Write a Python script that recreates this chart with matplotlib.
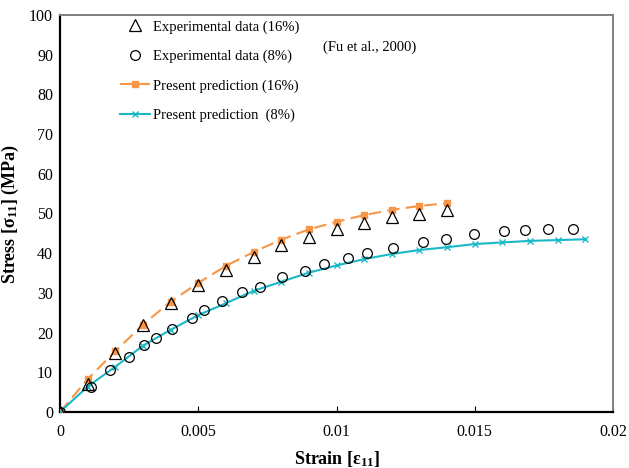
import matplotlib
matplotlib.use('Agg')
import matplotlib.pyplot as plt

plt.rcParams['font.family'] = ['Liberation Serif', 'DejaVu Serif']
plt.rcParams['mathtext.default'] = 'regular'

# present prediction, 16% and 8%
strain_16 = [0, 0.001, 0.002, 0.003, 0.004, 0.005, 0.006, 0.007, 0.008,
             0.009, 0.010, 0.011, 0.012, 0.013, 0.014]
pred_16 = [0, 8.3, 15.3, 22.0, 27.8, 32.5, 36.8, 40.3, 43.4,
           46.0, 47.9, 49.6, 50.9, 51.9, 52.6]
strain_8 = [0, 0.001, 0.002, 0.003, 0.004, 0.005, 0.006, 0.007, 0.008, 0.009,
            0.010, 0.011, 0.012, 0.013, 0.014, 0.015, 0.016, 0.017, 0.018, 0.019]
pred_8 = [0, 6.4, 11.4, 16.7, 20.7, 24.4, 27.4, 30.5, 32.8, 35.1,
          36.9, 38.5, 39.8, 40.8, 41.5, 42.3, 42.7, 43.1, 43.3, 43.5]

# experimental data (Fu et al., 2000)
exp16_x = [0, 0.001, 0.002, 0.003, 0.004, 0.005, 0.006, 0.007, 0.008,
           0.009, 0.010, 0.011, 0.012, 0.013, 0.014]
exp16_y = [0, 7.0, 14.8, 21.8, 27.4, 32.0, 35.8, 39.0, 42.0,
           44.0, 46.0, 47.5, 49.0, 49.9, 50.9]
exp8_x = [0, 0.00111, 0.00181, 0.00251, 0.00303, 0.00347, 0.00404, 0.00476,
          0.0052, 0.00586, 0.00659, 0.00725, 0.00804, 0.00886, 0.00956,
          0.01043, 0.01109, 0.01205, 0.01314, 0.01396, 0.01496, 0.01606,
          0.0168, 0.01766, 0.01854]
exp8_y = [0, 6.4, 10.6, 13.8, 16.8, 18.6, 21.0, 23.7, 25.7, 28.0, 30.1,
          31.6, 33.9, 35.5, 37.2, 38.7, 40.0, 41.2, 42.9, 43.6, 44.8, 45.6,
          45.8, 46.0, 46.2]

orange = '#F79646'
cyan = '#1BB8C8'

fig = plt.figure(figsize=(6.29, 4.68), dpi=100)
ax = fig.add_axes([0.0954, 0.1197, 0.8792, 0.8483])

ax.plot(exp16_x, exp16_y, linestyle='none', marker='^', markersize=8,
        markerfacecolor='none', markeredgecolor='black', markeredgewidth=0.9,
        label='Experimental data (16%)', zorder=4)
ax.plot(exp8_x, exp8_y, linestyle='none', marker='o', markersize=7,
        markerfacecolor='none', markeredgecolor='black', markeredgewidth=0.9,
        label='Experimental data (8%)', zorder=4)
ax.plot(strain_16, pred_16, color=orange, linestyle=(0, (6, 3)), linewidth=1.5,
        marker='s', markersize=5, label='Present prediction (16%)', zorder=3)
ax.plot(strain_8, pred_8, color=cyan, linewidth=1.5, marker='x', markersize=5,
        markeredgewidth=1.0, label='Present prediction  (8%)', zorder=3)

ax.set_xlim(0, 0.02)
ax.set_ylim(0, 100)
ax.set_xticks([0, 0.005, 0.01, 0.015, 0.02])
ax.set_xticklabels(['0', '0.005', '0.01', '0.015', '0.02'])
ax.set_yticks(range(0, 101, 10))
ax.tick_params(axis='x', direction='in', length=4, labelsize=11.5, pad=9)
ax.tick_params(axis='y', direction='in', length=0, labelsize=11.5, pad=5)

for side in ('left', 'bottom'):
    ax.spines[side].set_linewidth(1.6)
    ax.spines[side].set_color('black')
for side in ('top', 'right'):
    ax.spines[side].set_linewidth(1.4)
    ax.spines[side].set_color('#808080')

ax.set_xlabel('Strain [ε$_{11}$]', fontsize=13, fontweight='bold', labelpad=6)
ax.set_ylabel('Stress [σ$_{11}$] (MPa)', fontsize=13, fontweight='bold', labelpad=6)

leg = ax.legend(loc='upper left', bbox_to_anchor=(0.108, 0.987), frameon=False,
                fontsize=10.5, handlelength=2.1, labelspacing=1.1,
                handletextpad=0.15, borderpad=0, borderaxespad=0)

ax.text(0.476, 0.919, '(Fu et al., 2000)', transform=ax.transAxes,
        fontsize=10.5, va='center')

fig.savefig('out.png', dpi=100)
